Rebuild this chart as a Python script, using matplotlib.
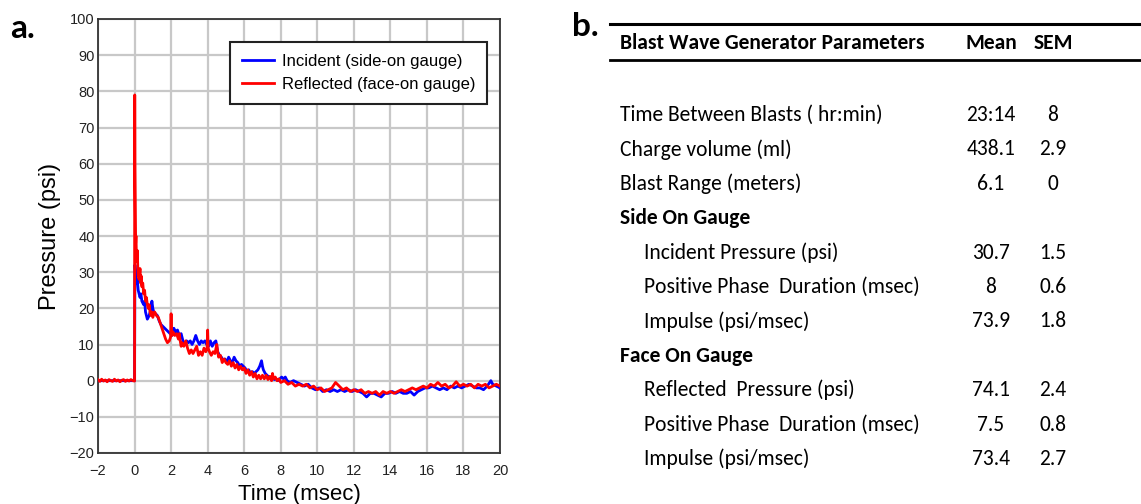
import numpy as np
import matplotlib
matplotlib.use("Agg")
import matplotlib.pyplot as plt
from matplotlib.lines import Line2D

# Panel a: pressure traces (time in msec, pressure in psi)
incident_t = [-2.0, -1.0, 0.0, 0.02, 0.05, 0.1, 0.15, 0.2, 0.25, 0.3, 0.35, 0.4, 0.5, 0.55,
              0.6, 0.65, 0.7, 0.75, 0.8, 0.85, 0.9, 0.95, 1.0, 1.05, 1.15, 1.25, 1.35, 1.45,
              1.55, 1.65, 1.75, 1.85, 1.95, 2.05, 2.15, 2.25, 2.35, 2.45, 2.55, 2.65, 2.75,
              2.85, 2.95, 3.05, 3.15, 3.25, 3.35, 3.45, 3.55, 3.65, 3.75, 3.85, 3.95, 4.05,
              4.15, 4.25, 4.35, 4.45, 4.55, 4.65, 4.75, 4.85, 4.95, 5.05, 5.15, 5.25, 5.35,
              5.45, 5.55, 5.65, 5.75, 5.85, 5.95, 6.05, 6.15, 6.25, 6.35, 6.45, 6.55, 6.65,
              6.75, 6.85, 6.95, 7.0, 7.05, 7.15, 7.25, 7.35, 7.45, 7.55, 7.65, 7.75, 7.85,
              7.95, 8.05, 8.15, 8.25, 8.35, 8.5, 8.7, 8.9, 9.1, 9.3, 9.5, 9.7, 9.9, 10.1,
              10.3, 10.5, 10.7, 10.9, 11.1, 11.3, 11.5, 11.7, 11.9, 12.1, 12.3, 12.5, 12.7,
              12.9, 13.1, 13.3, 13.5, 13.7, 13.9, 14.1, 14.3, 14.5, 14.7, 14.9, 15.1, 15.3,
              15.5, 15.7, 15.9, 16.1, 16.3, 16.5, 16.7, 16.9, 17.1, 17.3, 17.5, 17.7, 17.9,
              18.1, 18.3, 18.5, 18.7, 18.9, 19.1, 19.3, 19.5, 19.6, 19.8, 20.0]
incident_p = [0.0, 0.0, 0.0, 32, 30, 27, 28, 25, 24, 23, 24, 22, 21, 22,
              19, 18, 17, 17.5, 18, 19, 20, 22, 20, 19, 18.5, 18, 16.5, 15.5,
              15, 14.5, 14, 13.5, 13, 12.5, 14.5, 13.5, 14, 12.5, 13, 11, 10,
              11, 10.5, 11, 10, 11, 12.5, 11, 10, 11, 10.5, 11, 10, 9.5,
              11, 9.5, 10.5, 11, 8, 7, 6.5, 5.5, 6, 5, 6.5, 5.5, 5,
              6.5, 5.5, 5, 4, 4.5, 4, 3.5, 2.5, 3, 2, 2.5, 2, 2.5,
              3, 4, 5.5, 4, 3, 2, 1.5, 1, 0.5, 1, 0.3, 0.5, 0,
              0.5, 1, 0.5, 1, 0, -0.5, 0, -0.5, -1, -1.5, -1, -2, -2.5, -2,
              -3, -2.5, -3, -2.5, -3, -2.5, -3, -2.5, -3, -2.5, -3, -3.5, -4.5,
              -3.5, -3.5, -4, -4.5, -3.5, -3.5, -3, -3.5, -3, -3.5, -3.5, -3, -4,
              -3, -2.5, -2, -2, -1.5, -2, -2.5, -2, -2.5, -1.5, -2, -1.5, -2,
              -1.5, -1, -1.5, -2, -2, -2.5, -1.5, 0, -1, -1.5, -2]

reflected_t = [-2.0, -1.9, -1.8, -1.7, -1.6, -1.5, -1.4, -1.3, -1.2, -1.1, -1.0, -0.9, -0.8,
               -0.7, -0.6, -0.5, -0.4, -0.3, -0.2, -0.1, 0.0, 0.01, 0.02, 0.03, 0.04, 0.05,
               0.06, 0.08, 0.1, 0.12, 0.15, 0.18, 0.2, 0.25, 0.3, 0.33, 0.36, 0.4, 0.45,
               0.5, 0.55, 0.6, 0.65, 0.7, 0.75, 0.8, 0.85, 0.9, 0.95, 1.0, 1.05, 1.1, 1.2,
               1.3, 1.4, 1.5, 1.6, 1.7, 1.8, 1.9, 1.97, 2.0, 2.02, 2.05, 2.1, 2.2, 2.3,
               2.4, 2.45, 2.5, 2.55, 2.6, 2.7, 2.8, 2.9, 3.0, 3.1, 3.2, 3.3, 3.4, 3.5,
               3.6, 3.7, 3.8, 3.9, 3.97, 4.0, 4.03, 4.1, 4.2, 4.3, 4.4, 4.5, 4.55, 4.6,
               4.7, 4.8, 4.9, 5.0, 5.1, 5.2, 5.3, 5.4, 5.5, 5.6, 5.7, 5.8, 5.9, 6.0,
               6.1, 6.2, 6.3, 6.4, 6.5, 6.6, 6.7, 6.8, 6.9, 7.0, 7.1, 7.2, 7.3, 7.4,
               7.5, 7.55, 7.6, 7.7, 7.8, 7.9, 8.0, 8.2, 8.4, 8.6, 8.8, 9.0, 9.2, 9.4,
               9.6, 9.8, 10.0, 10.2, 10.4, 10.6, 10.8, 11.0, 11.2, 11.4, 11.6, 11.8, 12.0,
               12.2, 12.4, 12.6, 12.8, 13.0, 13.2, 13.4, 13.6, 13.8, 14.0, 14.2, 14.4,
               14.6, 14.8, 15.0, 15.2, 15.4, 15.6, 15.8, 16.0, 16.2, 16.4, 16.6, 16.8,
               17.0, 17.2, 17.4, 17.6, 17.8, 18.0, 18.2, 18.4, 18.6, 18.8, 19.0, 19.2,
               19.4, 19.6, 19.8, 20.0]
reflected_p = [0.3, -0.2, 0.4, -0.1, 0.2, -0.3, 0.3, 0.0, -0.2, 0.4, -0.1, 0.2, -0.3,
               0.1, 0.3, -0.2, 0.2, -0.1, 0.3, 0.0, -0.1, 79, 60, 53, 45, 43,
               38, 40, 35, 33, 36, 31, 29, 28, 31, 27, 29, 26, 27,
               24, 25, 22, 23, 21, 20, 21, 19, 18, 19, 17.5, 18.5, 19, 18,
               17.5, 16, 14.5, 13, 11.5, 10.5, 11, 12, 18.5, 14, 12.5, 13.5, 12.5, 13,
               11.5, 13, 11, 9.5, 10.5, 9.5, 11, 9, 7.5, 8.5, 7.5, 8.5, 9.5, 7,
               8, 7, 9, 8, 9, 14, 9, 8, 7, 8, 7.5, 10, 8, 6.5,
               7, 5, 6, 5, 4.5, 5.5, 4, 5, 3.5, 4.5, 3, 4, 3, 3.5,
               2, 3, 1.5, 2.5, 1, 2, 0.5, 1.5, 0.5, 1.5, 0.5, 1.5, 0.3, 1.2,
               0, 2, 0.5, 1, 0, 0.5, -0.5, 0, -1, -0.5, -1.5, -1, -1.5, -1,
               -2, -1.5, -2.5, -2, -3, -2.5, -2, -0.5, -1.5, -2.5, -2, -3, -2.5,
               -3, -2.5, -3.5, -3, -3.5, -3, -4, -3, -3.5, -3, -3.5, -3,
               -2.5, -3, -2.5, -2, -2.5, -2, -1.5, -2, -1, -1.5, -0.5, -1.5,
               -1, -2, -1.5, -0.3, -1.5, -1, -1.5, -1, -2, -1, -1.5, -1,
               -2, -1.5, -1, -1.5]

series_names = ["Incident (side-on gauge)", "Reflected (face-on gauge)"]
x_ticks = list(range(-2, 21, 2))
y_ticks = list(range(-20, 101, 10))

# Panel b: table
table_header = ["Blast Wave Generator Parameters", "Mean", "SEM"]
row_labels = ["Time Between Blasts ( hr:min)", "Charge volume (ml)", "Blast Range (meters)",
              "Side On Gauge", "Incident Pressure (psi)", "Positive Phase  Duration (msec)",
              "Impulse (psi/msec)", "Face On Gauge", "Reflected  Pressure (psi)",
              "Positive Phase  Duration (msec)", "Impulse (psi/msec)"]
row_means = ["23:14", "438.1", "6.1", "", "30.7", "8", "73.9", "", "74.1", "7.5", "73.4"]
row_sems = ["8", "2.9", "0", "", "1.5", "0.6", "1.8", "", "2.4", "0.8", "2.7"]
row_kind = ["plain", "plain", "plain", "section", "sub", "sub", "sub", "section", "sub", "sub", "sub"]

# Calibri look-alike for the table
tfont = ["Carlito", "Lato", "DejaVu Sans"]
fs = 15.5

W, H = 1141, 504
fig = plt.figure(figsize=(W / 100, H / 100), dpi=100)


def fx(px):
    return px / W


def fy(py):
    return 1 - py / H


# ---- panel a ----
ax = fig.add_axes([fx(98), fy(453), fx(500) - fx(98), fy(19) - fy(453)])
ax.plot(incident_t, incident_p, color="#0000ff", lw=2, zorder=3)
ax.plot(reflected_t, reflected_p, color="#ff0000", lw=2, zorder=4)
ax.set_xlim(-2, 20)
ax.set_ylim(-20, 100)
ax.set_xticks(x_ticks)
ax.set_yticks(y_ticks)
ax.grid(True, color="#c8c8c8", lw=1.6)
ax.set_axisbelow(True)
ax.tick_params(length=0, labelsize=10.5, labelcolor="#222222")
ax.tick_params(axis="x", pad=8)
ax.tick_params(axis="y", pad=2.5)
for lab in ax.get_xticklabels() + ax.get_yticklabels():
    lab.set_family("Liberation Sans")
for s in ax.spines.values():
    s.set_color("#333333")
    s.set_linewidth(1.3)
ax.set_xlabel("Time (msec)", fontsize=16, family="Liberation Sans", labelpad=4)
ax.set_ylabel("Pressure (psi)", fontsize=17, family="Liberation Sans", labelpad=6)

handles = [Line2D([], [], color="#0000ff", lw=2), Line2D([], [], color="#ff0000", lw=2)]
leg = ax.legend(handles, series_names, loc="upper right", bbox_to_anchor=(0.968, 0.947),
                borderaxespad=0, fancybox=False, framealpha=1, edgecolor="#222222",
                handlelength=1.9, handletextpad=0.5, borderpad=0.7, labelspacing=0.5,
                prop={"family": "Liberation Sans", "size": 12})
leg.get_frame().set_linewidth(1.5)

fig.text(fx(10), fy(29), "a.", fontsize=24, fontweight="bold", family="Lato",
         va="center", ha="left")

# ---- panel b ----
fig.text(fx(585), fy(26), "b.", fontsize=24, fontweight="bold", family="Lato",
         va="center", ha="center")
fig.add_artist(Line2D([fx(610), fx(1141)], [fy(24), fy(24)], color="black", lw=2.2))
fig.add_artist(Line2D([fx(610), fx(1141)], [fy(60), fy(60)], color="black", lw=2.0))

fig.text(fx(620), fy(43), table_header[0], fontsize=fs, fontweight="bold", family=tfont,
         va="center", ha="left")
fig.text(fx(991), fy(43), table_header[1], fontsize=fs, fontweight="bold", family=tfont,
         va="center", ha="center")
fig.text(fx(1053), fy(43), table_header[2], fontsize=fs, fontweight="bold", family=tfont,
         va="center", ha="center")

row_y0, row_dy = 115, 34.4
for i, (lab, m, s, kind) in enumerate(zip(row_labels, row_means, row_sems, row_kind)):
    y = row_y0 + i * row_dy
    x0 = 644 if kind == "sub" else 620
    fw = "bold" if kind == "section" else "normal"
    fig.text(fx(x0), fy(y), lab, fontsize=fs, fontweight=fw, family=tfont,
             va="center", ha="left")
    fig.text(fx(991), fy(y), m, fontsize=fs, family=tfont, va="center", ha="center")
    fig.text(fx(1053), fy(y), s, fontsize=fs, family=tfont, va="center", ha="center")

fig.savefig("out.png", dpi=100)
